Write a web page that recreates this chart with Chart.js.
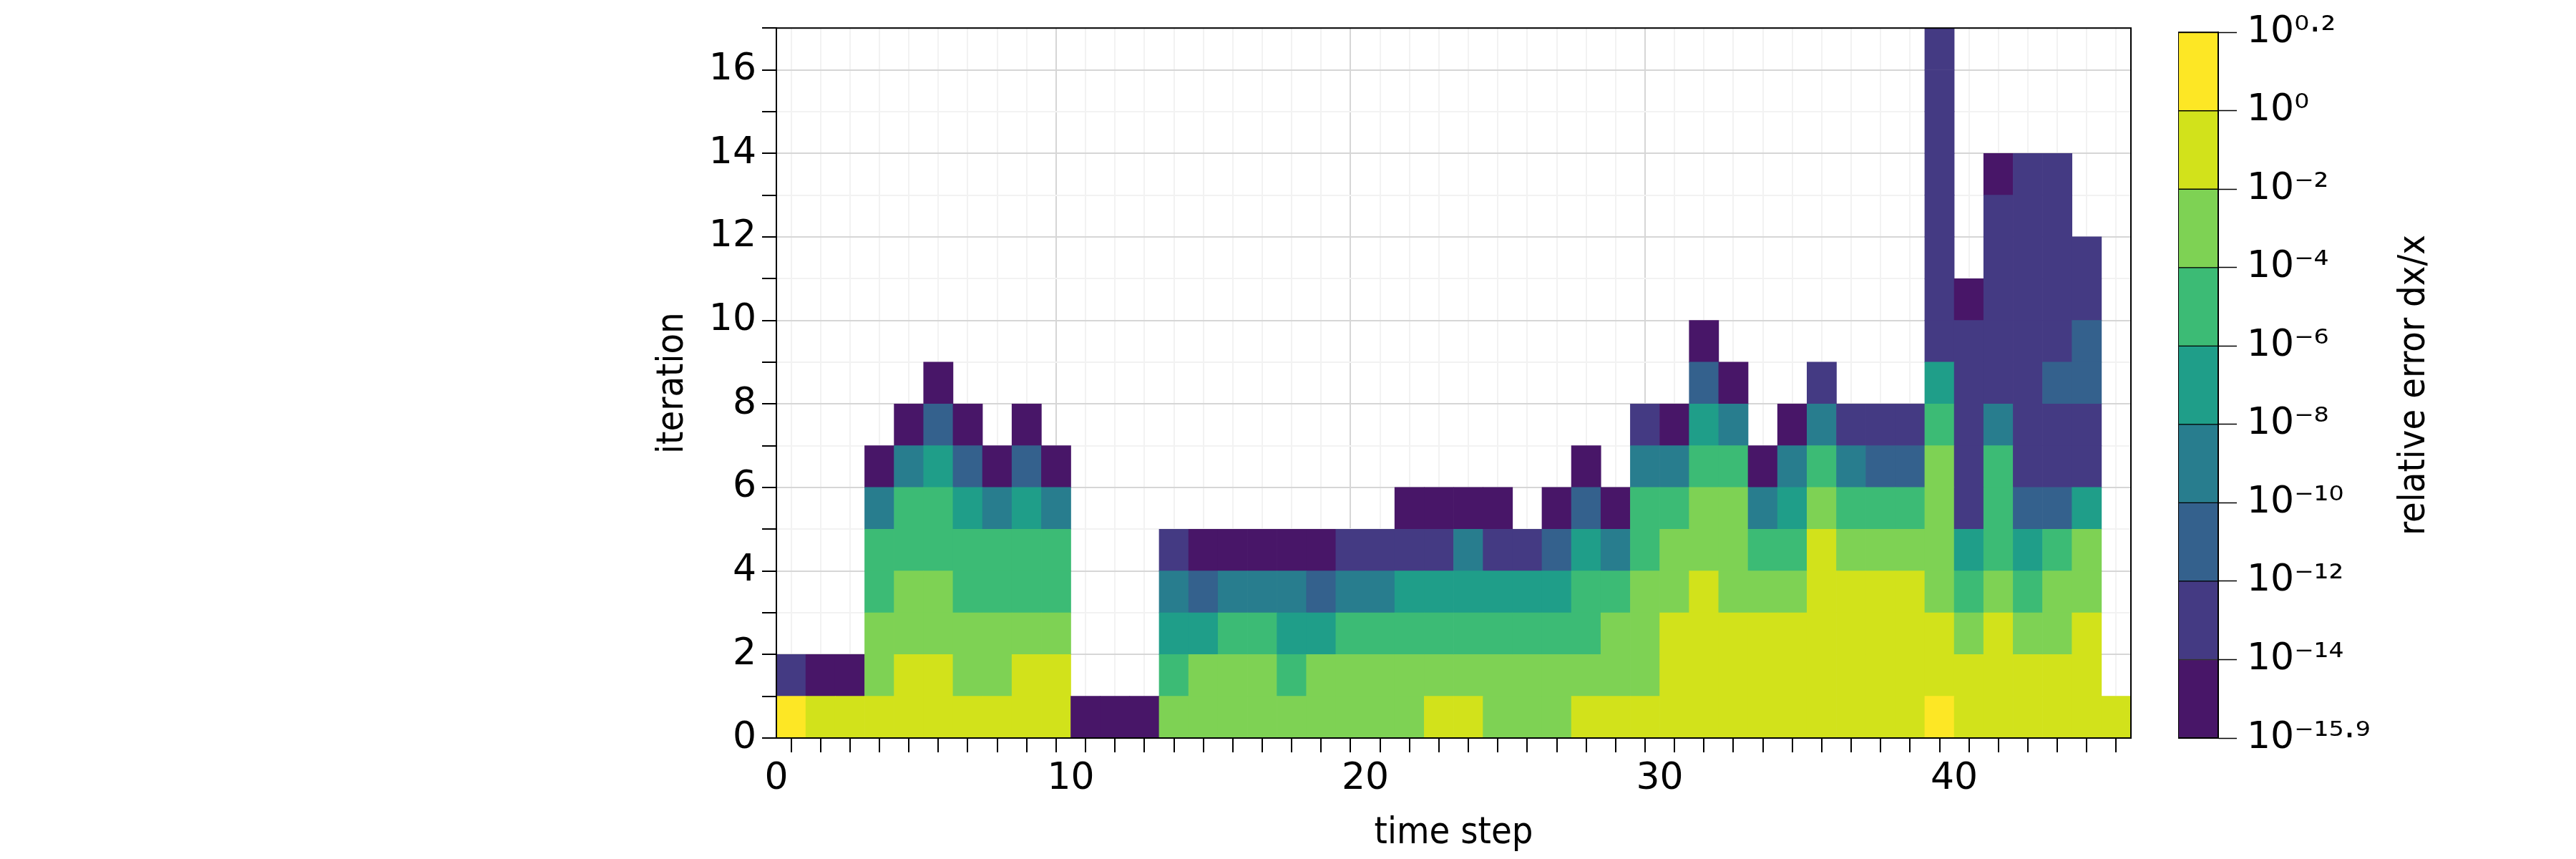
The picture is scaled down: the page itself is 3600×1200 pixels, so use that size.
<!DOCTYPE html>
<html><head><meta charset="utf-8">
<script src="https://cdn.jsdelivr.net/npm/chart.js@4"></script>
<style>
html,body{margin:0;padding:0;background:#fff;width:3600px;height:1200px;overflow:hidden}
#m{position:absolute;left:0;top:0;width:3000px;height:1200px}
#c{position:absolute;left:3044px;top:0;width:556px;height:1200px}
</style></head><body>
<div id="m"><canvas id="main"></canvas></div>
<div id="c"><canvas id="cbar"></canvas></div>
<script>
// log10 of relative error per time step, iterations 0..n-1
const col00=[0.1,-13];
const col01=[-1,-15];
const col02=[-1,-15];
const col03=[-1,-3,-3,-5,-5,-9,-15];
const col04=[-1,-1,-3,-3,-5,-5,-9,-15];
const col05=[-1,-1,-3,-3,-5,-5,-7,-11,-15];
const col06=[-1,-3,-3,-5,-5,-7,-11,-15];
const col07=[-1,-3,-3,-5,-5,-9,-15];
const col08=[-1,-1,-3,-5,-5,-7,-11,-15];
const col09=[-1,-1,-3,-5,-5,-9,-15];
const col10=[-15];
const col11=[-15];
const col12=[-15];
const col13=[-3,-5,-7,-9,-13];
const col14=[-3,-3,-7,-11,-15];
const col15=[-3,-3,-5,-9,-15];
const col16=[-3,-3,-5,-9,-15];
const col17=[-3,-5,-7,-9,-15];
const col18=[-3,-3,-7,-11,-15];
const col19=[-3,-3,-5,-9,-13];
const col20=[-3,-3,-5,-9,-13];
const col21=[-3,-3,-5,-7,-13,-15];
const col22=[-1,-3,-5,-7,-13,-15];
const col23=[-1,-3,-5,-7,-9,-15];
const col24=[-3,-3,-5,-7,-13,-15];
const col25=[-3,-3,-5,-7,-13];
const col26=[-3,-3,-5,-7,-11,-15];
const col27=[-1,-3,-5,-5,-7,-11,-15];
const col28=[-1,-3,-3,-5,-9,-15];
const col29=[-1,-3,-3,-3,-5,-5,-9,-13];
const col30=[-1,-1,-1,-3,-3,-5,-9,-15];
const col31=[-1,-1,-1,-1,-3,-3,-5,-7,-11,-15];
const col32=[-1,-1,-1,-3,-3,-3,-5,-9,-15];
const col33=[-1,-1,-1,-3,-5,-9,-15];
const col34=[-1,-1,-1,-3,-5,-7,-9,-15];
const col35=[-1,-1,-1,-1,-1,-3,-5,-9,-13];
const col36=[-1,-1,-1,-1,-3,-5,-9,-13];
const col37=[-1,-1,-1,-1,-3,-5,-11,-13];
const col38=[-1,-1,-1,-1,-3,-5,-11,-13];
const col39=[0.1,-1,-1,-3,-3,-3,-3,-5,-7,-13,-13,-13,-13,-13,-13,-13,-13];
const col40=[-1,-1,-3,-5,-7,-13,-13,-13,-13,-13,-15];
const col41=[-1,-1,-1,-3,-5,-5,-5,-9,-13,-13,-13,-13,-13,-15];
const col42=[-1,-1,-3,-5,-7,-11,-13,-13,-13,-13,-13,-13,-13,-13];
const col43=[-1,-1,-3,-3,-5,-11,-13,-13,-11,-13,-13,-13,-13,-13];
const col44=[-1,-1,-1,-3,-3,-7,-13,-13,-11,-11,-13,-13];
const col45=[-1];
const columns=[col00,col01,col02,col03,col04,col05,col06,col07,col08,col09,col10,col11,col12,col13,col14,col15,col16,col17,col18,col19,col20,col21,col22,col23,col24,col25,col26,col27,col28,col29,col30,col31,col32,col33,col34,col35,col36,col37,col38,col39,col40,col41,col42,col43,col44,col45];
const binEdges=[-15.9,-14,-12,-10,-8,-6,-4,-2,0,0.2];
const binColors=['#481668','#443a83','#34618d','#287d8e','#1f9e89','#3cbb75','#7ed254','#d2e21b','#fde725'];
const cbarTickLabels=['10⁻¹⁵·⁹','10⁻¹⁴','10⁻¹²','10⁻¹⁰','10⁻⁸','10⁻⁶','10⁻⁴','10⁻²','10⁰','10⁰·²'];

function colorOf(v){for(let i=0;i<binColors.length;i++){if(v<=binEdges[i+1])return binColors[i];}return binColors[binColors.length-1];}
const maxRows=Math.max(...columns.map(c=>c.length));
const datasets=[];
for(let r=0;r<maxRows;r++){
  const data=[],bg=[];
  columns.forEach((c,i)=>{ if(r<c.length){data.push({x:i+0.5,y:[r,r+1]});bg.push(colorOf(c[r]));} });
  datasets.push({data,backgroundColor:bg,borderWidth:0,barPercentage:1,categoryPercentage:1,grouped:false});
}
const tickFont={family:'DejaVu Sans',size:52};
const titleFont={family:'DejaVu Sans Condensed, DejaVu Sans',size:52};
const boxPlugin={id:'box',afterDraw(ch){const a=ch.chartArea,x=ch.ctx;x.save();x.strokeStyle='#000';x.lineWidth=2;x.strokeRect(a.left,a.top,a.right-a.left,a.bottom-a.top);x.restore();}};
new Chart(document.getElementById('main'),{
  type:'bar',data:{datasets},
  options:{responsive:true,maintainAspectRatio:false,animation:false,
    layout:{padding:{left:905,right:22,top:39,bottom:0}},
    plugins:{legend:{display:false},tooltip:{enabled:false}},
    scales:{
      x:{type:'linear',min:0,max:46,offset:false,
        afterBuildTicks:s=>{s.ticks=[];for(let i=0;i<=46;i++)s.ticks.push({value:i});},
        afterFit:s=>{s.height=169;},
        ticks:{font:tickFont,color:'#000',maxRotation:0,autoSkip:false,padding:6,callback:v=>v%10===0?String(v):''},
        grid:{color:c=>c.tick&&c.tick.value%10===0?'#d6d6d6':'#f2f2f2',lineWidth:2,tickLength:20,tickColor:'#000',tickWidth:2},
        border:{color:'#000',width:2},
        title:{display:true,text:'time step',font:titleFont,color:'#000',padding:{top:0}}},
      y:{type:'linear',min:0,max:17,
        afterBuildTicks:s=>{s.ticks=[];for(let i=0;i<=17;i++)s.ticks.push({value:i});},
        afterFit:s=>{s.width=180;},
        ticks:{font:tickFont,color:'#000',autoSkip:false,padding:8,callback:v=>v%2===0&&v<17?String(v):''},
        grid:{color:c=>c.tick&&c.tick.value%2===0?'#d6d6d6':'#f2f2f2',lineWidth:2,tickLength:20,tickColor:'#000',tickWidth:2},
        border:{color:'#000',width:2},
        title:{display:true,text:'iteration',font:titleFont,color:'#000',padding:{bottom:0}}}
    }},
  plugins:[boxPlugin]
});
// colorbar: equal-height bins (index space), labelled by bin edges
const cds=binColors.map((c,i)=>({data:[[i,i+1]],backgroundColor:c,borderColor:'#000',borderWidth:1,borderSkipped:false,barPercentage:1,categoryPercentage:1,grouped:false}));
const cbTitle={id:'cbTitle',afterDraw(ch){const a=ch.chartArea,x=ch.ctx;x.save();x.translate(a.left+330,(a.top+a.bottom)/2);x.rotate(-Math.PI/2);x.font="52px 'DejaVu Sans Condensed', 'DejaVu Sans'";x.fillStyle='#000';x.textAlign='center';x.textBaseline='middle';x.fillText('relative error dx/x',0,0);x.restore();}};
new Chart(document.getElementById('cbar'),{
  type:'bar',data:{labels:[''],datasets:cds},
  options:{responsive:true,maintainAspectRatio:false,animation:false,
    layout:{padding:{left:0,right:0,top:39,bottom:169}},
    plugins:{legend:{display:false},tooltip:{enabled:false}},
    scales:{
      x:{display:false},
      y:{type:'linear',position:'right',min:0,max:9,
        afterBuildTicks:s=>{s.ticks=binEdges.map((v,i)=>({value:i}));},
        afterFit:s=>{s.width=500;},
        ticks:{font:tickFont,color:'#000',autoSkip:false,padding:14,callback:(v,i)=>cbarTickLabels[i]},
        grid:{drawOnChartArea:false,tickLength:26,tickColor:'#000',tickWidth:1.5},
        border:{color:'#000',width:1.5}}
    }},
  plugins:[boxPlugin,cbTitle]
});
</script></body></html>
